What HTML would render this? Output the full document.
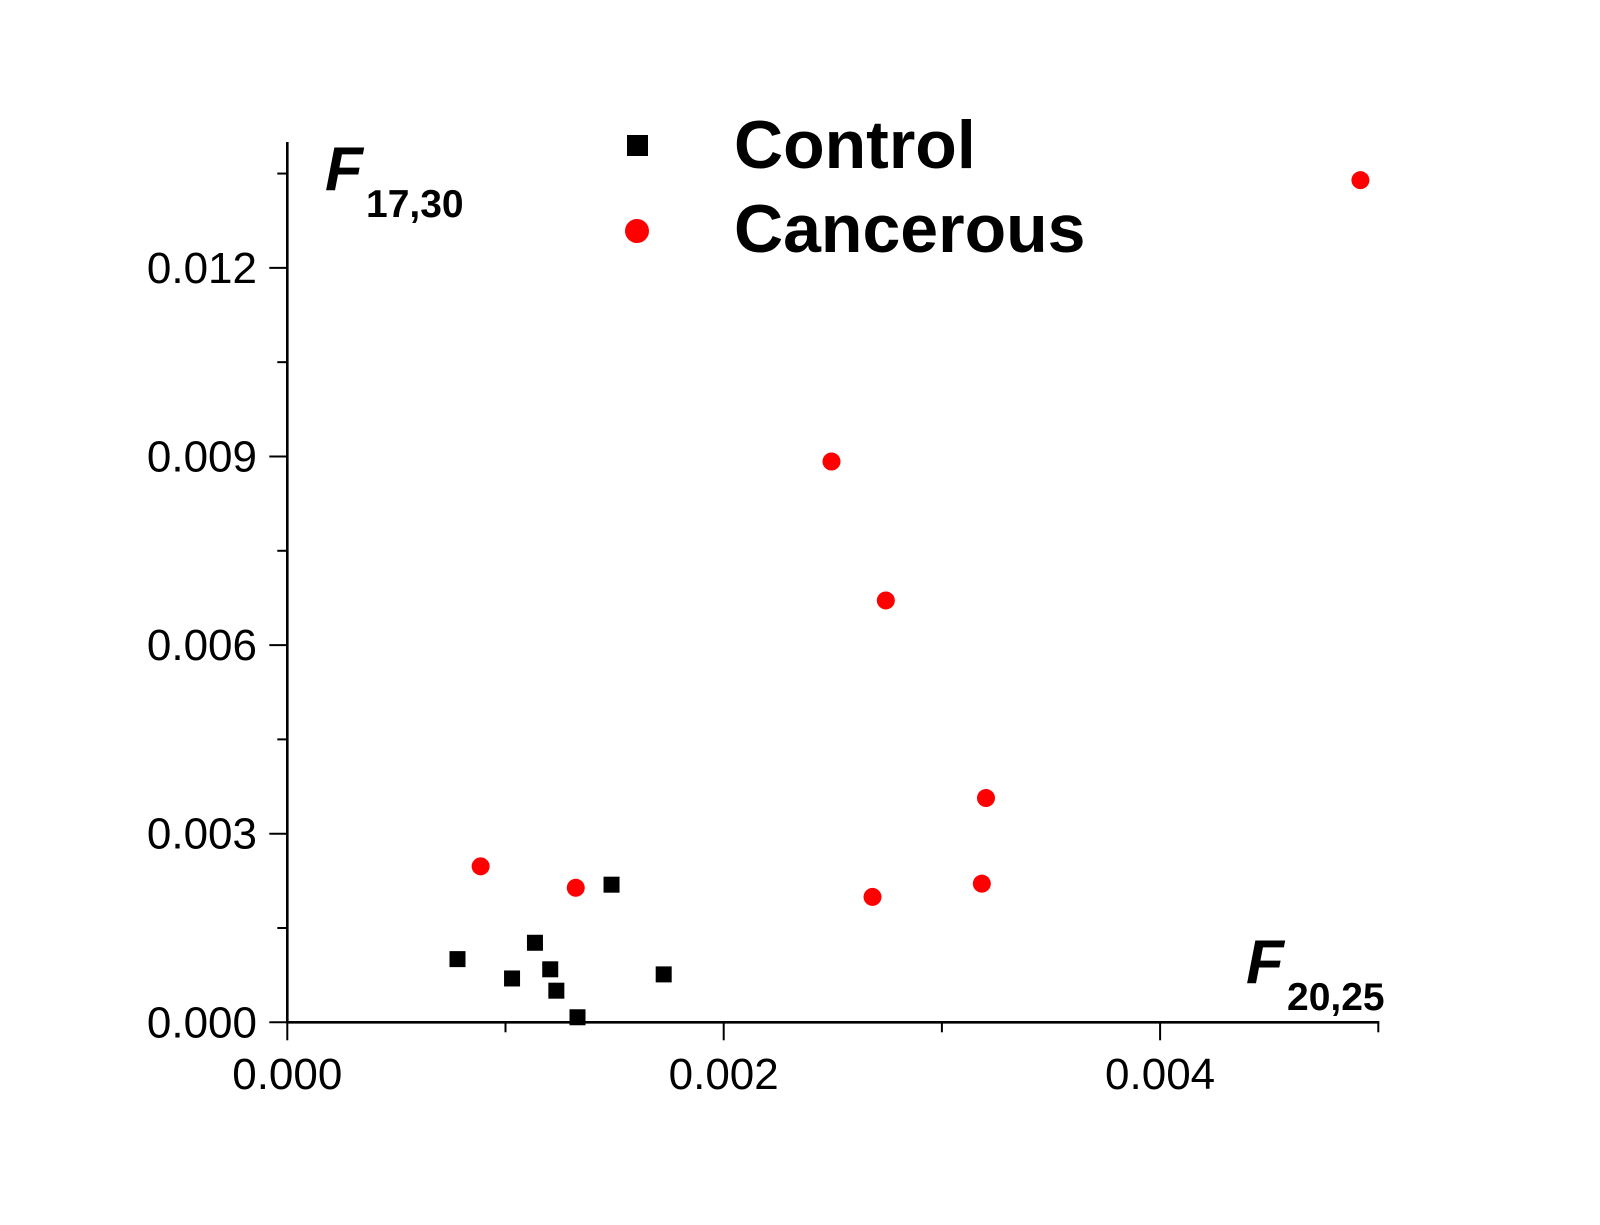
<!DOCTYPE html>
<html><head><meta charset="utf-8"><style>
html,body{margin:0;padding:0;background:#fff;}
svg{display:block;}
</style></head><body>
<svg id="chart" width="1600" height="1225" viewBox="0 0 1600 1225" xmlns="http://www.w3.org/2000/svg" font-family="Liberation Sans, Arial, sans-serif">
<g id="axes"></g>
<g id="marks"></g>
<g>
  <rect x="627" y="135" width="21" height="21" fill="#000"/>
  <text x="734" y="168" font-size="68" font-weight="bold">Control</text>
  <circle cx="637" cy="231" r="12" fill="#ff0000"/>
  <text x="734" y="252" font-size="68" font-weight="bold">Cancerous</text>
</g>
<text x="325" y="190" font-size="62" font-weight="bold" font-style="italic">F<tspan x="366" y="217" font-size="39" font-style="normal">17,30</tspan></text>
<text x="1246" y="983" font-size="62" font-weight="bold" font-style="italic">F<tspan x="1287" y="1010" font-size="39" font-style="normal">20,25</tspan></text>
</svg>
<script>
const controlX = [0.00078, 0.00103, 0.001135, 0.001205, 0.001233, 0.00133, 0.001486, 0.001725];
const controlY = [0.001005, 0.000697, 0.001265, 0.000843, 0.000503, 0.00008, 0.002189, 0.000762];
const cancerX = [0.000886, 0.001322, 0.002494, 0.002743, 0.002682, 0.003202, 0.003183, 0.004918];
const cancerY = [0.002481, 0.00214, 0.00892, 0.00671, 0.001994, 0.003567, 0.002205, 0.013395];
const xTickLabels = ["0.000", "0.002", "0.004"];
const xTickValues = [0, 0.002, 0.004];
const xMinorValues = [0.001, 0.003, 0.005];
const yTickLabels = ["0.000", "0.003", "0.006", "0.009", "0.012"];
const yTickValues = [0, 0.003, 0.006, 0.009, 0.012];
const yMinorValues = [0.0015, 0.0045, 0.0075, 0.0105, 0.0135];

const X0 = 287.3, XS = 218200, Y0 = 1022.3, YS = 62870;
function sx(v){ return X0 + v * XS; }
function sy(v){ return Y0 - v * YS; }
const NS = "http://www.w3.org/2000/svg";
function mk(tag, attrs, parent){
  const e = document.createElementNS(NS, tag);
  for (const k in attrs) e.setAttribute(k, attrs[k]);
  parent.appendChild(e);
  return e;
}
const axes = document.getElementById('axes');
const marks = document.getElementById('marks');

let l = mk('line', {x1: X0, y1: 142, x2: X0, y2: Y0 + 1, stroke: '#000', 'stroke-width': 2.6}, axes);


l = mk('line', {x1: X0 - 1, y1: Y0, x2: sx(0.005) + 1, y2: Y0, stroke: '#000', 'stroke-width': 2.6}, axes);



xTickValues.forEach((v, i) => {
  const t = mk('line', {x1: sx(v), y1: Y0, x2: sx(v), y2: Y0 + 18, stroke: '#000', 'stroke-width': 2}, axes);
  
  
  const tx = mk('text', {x: sx(v), y: 1089, 'font-size': 44, 'text-anchor': 'middle'}, axes);
  tx.textContent = xTickLabels[i];
  
  
});
xMinorValues.forEach(v => {
  const t = mk('line', {x1: sx(v), y1: Y0, x2: sx(v), y2: Y0 + 10, stroke: '#000', 'stroke-width': 2}, axes);
  
  
});
yTickValues.forEach((v, i) => {
  const t = mk('line', {x1: X0 - 18, y1: sy(v), x2: X0, y2: sy(v), stroke: '#000', 'stroke-width': 2}, axes);
  
  
  const tx = mk('text', {x: 257, y: sy(v) + 15, 'font-size': 44, 'text-anchor': 'end'}, axes);
  tx.textContent = yTickLabels[i];
  
  
});
yMinorValues.forEach(v => {
  const t = mk('line', {x1: X0 - 10, y1: sy(v), x2: X0, y2: sy(v), stroke: '#000', 'stroke-width': 2}, axes);
  
  
});

controlX.forEach((v, i) => {
  const r = mk('rect', {x: sx(v) - 8, y: sy(controlY[i]) - 8, width: 16, height: 16, fill: '#000'}, marks);
  
  
});
cancerX.forEach((v, i) => {
  const c = mk('circle', {cx: sx(v), cy: sy(cancerY[i]), r: 9, fill: '#ff0000'}, marks);
  
  
});
</script>
</body></html>
